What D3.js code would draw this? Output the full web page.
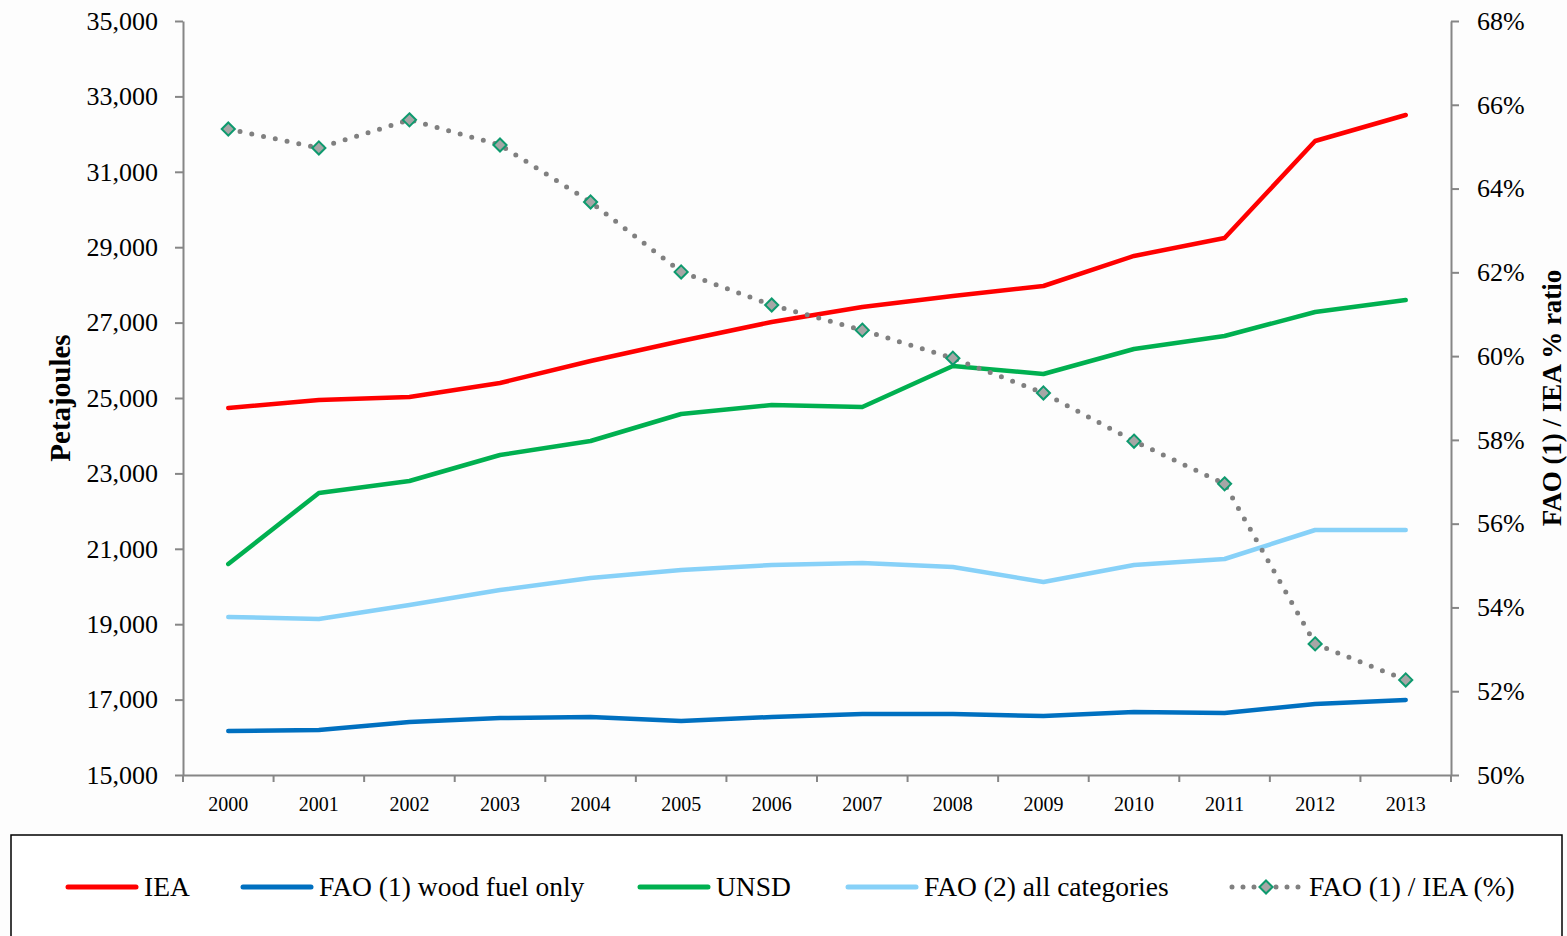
<!DOCTYPE html>
<html lang="en">
<head>
<meta charset="UTF-8">
<title>Wood energy: IEA vs FAO vs UNSD</title>
<script src="https://d3js.org/d3.v7.min.js"></script>
<style>
  body { margin: 0; background: #fdfdfd; }
  svg text { font-family: "Liberation Serif", "DejaVu Serif", serif; fill: #000; }
</style>
</head>
<body>
<svg width="1567" height="936"></svg>
<script>
    // data
    let years = ["2000","2001","2002","2003","2004","2005","2006","2007","2008","2009","2010","2011","2012","2013"]
    let iea = [24735,24947,25027,25398,25981,26512,27016,27414,27706,27971,28767,29244,31817,32507]
    let fao1 = [16167,16194,16406,16512,16538,16432,16538,16618,16618,16565,16671,16645,16883,16989]
    let unsd = [20597,22480,22798,23488,23859,24576,24814,24761,25849,25637,26300,26645,27281,27599]
    let fao2 = [19191,19138,19509,19907,20225,20438,20570,20623,20517,20119,20570,20729,21499,21499]
    let ratio = [65.42,64.97,65.64,65.04,63.68,62.01,61.22,60.62,59.95,59.12,57.97,56.95,53.13,52.27]
    let leftTicks = d3.range(15000, 35001, 2000)
    let rightTicks = d3.range(50, 68.1, 2)

    let svg = d3.select("svg")
    let plotLeft = 183, plotRight = 1451, plotTop = 21, plotBottom = 775
    let serif = '"Liberation Serif", "DejaVu Serif", serif'

    let x = d3.scaleBand().domain(years).range([plotLeft, plotRight])
    let y = d3.scaleLinear().domain([15000, 35000]).range([plotBottom, plotTop])
    let y2 = d3.scaleLinear().domain([50, 68]).range([plotBottom, plotTop])

    let fmt = d3.format(",")

    // axes
    let axisColor = "#868686"
    let gx = svg.append("g")
        .attr("transform", `translate(0,${plotBottom})`)
        .call(d3.axisBottom(x).tickSize(7).tickSizeOuter(0))
    // move ticks to band edges, like Excel
    gx.selectAll(".tick line").attr("x1", -x.bandwidth()/2).attr("x2", -x.bandwidth()/2)
    gx.append("line").attr("x1", plotRight).attr("x2", plotRight).attr("y1", 0).attr("y2", 7)
        .attr("stroke", axisColor).attr("stroke-width", 2)
    gx.selectAll(".tick text").attr("dy", "1.3em").style("font-size", "20px")

    let gl = svg.append("g")
        .attr("transform", `translate(${plotLeft},0)`)
        .call(d3.axisLeft(y).tickValues(leftTicks).tickFormat(fmt).tickSize(8).tickSizeOuter(0))
    gl.selectAll(".tick text").attr("x", -25).style("font-size", "26px")

    let gr = svg.append("g")
        .attr("transform", `translate(${plotRight},0)`)
        .call(d3.axisRight(y2).tickValues(rightTicks).tickFormat(d => d + "%").tickSize(8).tickSizeOuter(0))
    gr.selectAll(".tick text").attr("x", 26).style("font-size", "26px")

    svg.selectAll(".domain, .tick line").attr("stroke", axisColor).attr("stroke-width", 2)
    svg.selectAll("g").attr("font-family", serif)

    svg.append("text")
        .attr("transform", `translate(70,${(plotTop+plotBottom)/2}) rotate(-90)`)
        .attr("text-anchor", "middle")
        .style("font-size", "29px").style("font-weight", "bold")
        .text("Petajoules")
    svg.append("text")
        .attr("transform", `translate(1561,${(plotTop+plotBottom)/2}) rotate(-90)`)
        .attr("text-anchor", "middle")
        .style("font-size", "27px").style("font-weight", "bold")
        .text("FAO (1) / IEA % ratio")

    // series
    let cx = d => x(d) + x.bandwidth()/2
    let series = [
        {name: "IEA", values: iea, color: "#FF0000"},
        {name: "FAO (1) wood fuel only", values: fao1, color: "#0070C0"},
        {name: "UNSD", values: unsd, color: "#00B050"},
        {name: "FAO (2) all categories", values: fao2, color: "#87D1F8"}
    ]
    let line = d3.line().x((d, i) => cx(years[i])).y(d => y(d))
    svg.append("g").selectAll("path")
        .data(series)
        .enter()
        .append("path")
        .attr("d", d => line(d.values))
        .attr("fill", "none")
        .attr("stroke", d => d.color)
        .attr("stroke-width", 4.5)
        .attr("stroke-linejoin", "round")
        .attr("stroke-linecap", "round")

    let line2 = d3.line().x((d, i) => cx(years[i])).y(d => y2(d))
    svg.append("path")
        .attr("d", line2(ratio))
        .attr("fill", "none")
        .attr("stroke", "#808080")
        .attr("stroke-width", 5)
        .attr("stroke-linecap", "round")
        .attr("stroke-dasharray", "0,12")

    let diamond = d3.symbol().type(d3.symbolDiamond2).size(110)
    svg.append("g").selectAll("path")
        .data(ratio)
        .enter()
        .append("path")
        .attr("transform", (d, i) => `translate(${cx(years[i])},${y2(d)})`)
        .attr("d", diamond)
        .attr("fill", "#A6A6A6")
        .attr("stroke", "#0E9A6E")
        .attr("stroke-width", 2)

    // legend
    let lg = svg.append("g").attr("font-family", serif)
    lg.append("rect").attr("x", 11).attr("y", 835).attr("width", 1551).attr("height", 120)
        .attr("fill", "#fff").attr("stroke", "#000").attr("stroke-width", 1.5)
    let legendX = [68, 243, 640, 848]
    series.forEach((s, i) => {
        lg.append("line").attr("x1", legendX[i]).attr("x2", legendX[i] + 68)
            .attr("y1", 887).attr("y2", 887)
            .attr("stroke", s.color).attr("stroke-width", 5).attr("stroke-linecap", "round")
        lg.append("text").attr("x", legendX[i] + 76).attr("y", 896)
            .style("font-size", "27.5px").text(s.name)
    })
    lg.append("line").attr("x1", 1232).attr("x2", 1300).attr("y1", 887).attr("y2", 887)
        .attr("stroke", "#808080").attr("stroke-width", 5).attr("stroke-linecap", "round")
        .attr("stroke-dasharray", "0,11")
    lg.append("path").attr("transform", "translate(1266,887)").attr("d", diamond)
        .attr("fill", "#A6A6A6").attr("stroke", "#0E9A6E").attr("stroke-width", 2)
    lg.append("text").attr("x", 1309).attr("y", 896)
        .style("font-size", "27.5px").text("FAO (1) / IEA (%)")
</script>
</body>
</html>
